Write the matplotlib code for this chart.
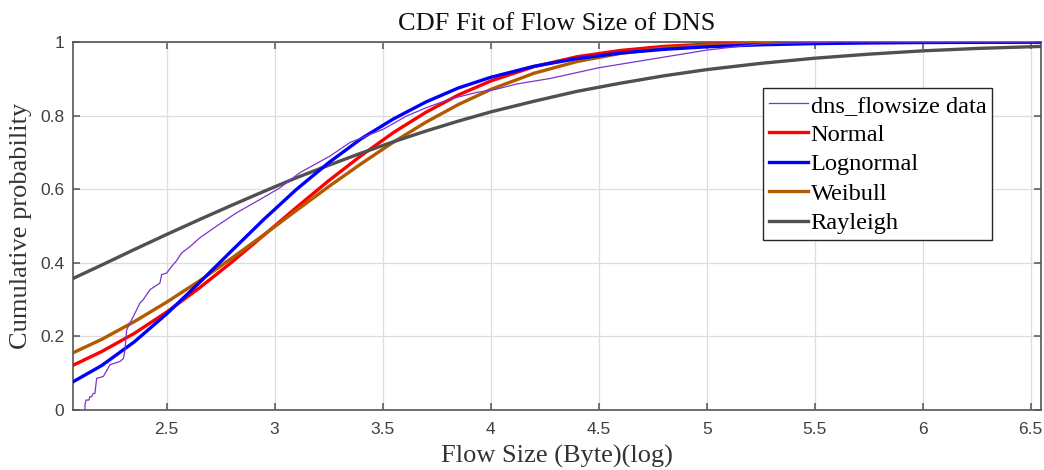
import matplotlib
matplotlib.use('Agg')
import matplotlib.pyplot as plt

# fitted CDF curves, values at these x positions
fit_x = [2.065, 2.2, 2.35, 2.5, 2.65, 2.8, 2.95, 3.1, 3.25, 3.4, 3.55, 3.7, 3.85, 4.0,
         4.2, 4.4, 4.6, 4.8, 5.0, 5.25, 5.5, 5.75, 6.0, 6.25, 6.546]
normal = [0.121, 0.159, 0.208, 0.266, 0.331, 0.401, 0.475, 0.550, 0.623, 0.691, 0.754, 0.809, 0.856, 0.894,
          0.933, 0.960, 0.977, 0.988, 0.994, 0.9975, 0.999, 0.9998, 1.0, 1.0, 1.0]
lognormal = [0.076, 0.121, 0.185, 0.261, 0.345, 0.432, 0.518, 0.599, 0.672, 0.737, 0.791, 0.837, 0.875, 0.904,
             0.934, 0.955, 0.970, 0.980, 0.987, 0.9925, 0.9957, 0.9975, 0.9986, 0.9992, 0.9996]
weibull = [0.155, 0.192, 0.240, 0.293, 0.350, 0.412, 0.476, 0.542, 0.607, 0.669, 0.728, 0.782, 0.830, 0.871,
           0.915, 0.947, 0.969, 0.983, 0.9914, 0.9967, 0.9989, 0.9997, 0.9999, 1.0, 1.0]
rayleigh = [0.357, 0.394, 0.436, 0.477, 0.517, 0.556, 0.594, 0.631, 0.665, 0.698, 0.729, 0.758, 0.785, 0.810,
            0.839, 0.866, 0.888, 0.908, 0.925, 0.942, 0.956, 0.967, 0.976, 0.9825, 0.988]

# empirical CDF of the data (stairs)
data_x = [2.122, 2.122, 2.127, 2.140, 2.145, 2.153, 2.160, 2.168, 2.176, 2.207, 2.238, 2.284, 2.300, 2.307,
          2.315, 2.338, 2.377, 2.392, 2.423, 2.469, 2.477, 2.500, 2.523, 2.545, 2.570, 2.610, 2.654, 2.732,
          2.824, 2.932, 3.025, 3.117, 3.256, 3.349, 3.426, 3.503, 3.611, 3.704, 3.812, 3.935, 4.028, 4.121,
          4.276, 4.500, 5.0, 5.25, 5.6, 6.546]
data_y = [0.0, 0.014, 0.027, 0.027, 0.036, 0.036, 0.045, 0.045, 0.086, 0.091, 0.123, 0.132, 0.140, 0.163,
          0.218, 0.245, 0.291, 0.300, 0.327, 0.345, 0.368, 0.372, 0.390, 0.405, 0.427, 0.445, 0.468, 0.500,
          0.536, 0.572, 0.604, 0.645, 0.690, 0.727, 0.745, 0.763, 0.799, 0.822, 0.845, 0.863, 0.872, 0.886,
          0.901, 0.930, 0.978, 0.995, 1.0, 1.0]

serif = 'Liberation Serif'
sans = 'Liberation Sans'
axcol = '#555555'

fig = plt.figure(figsize=(10.44, 4.70), dpi=100)
ax = fig.add_axes([0.0696, 0.1277, 0.9272, 0.7829])

ax.plot(data_x, data_y, color='#7B33CC', lw=0.9, label='dns_flowsize data', zorder=5)
ax.plot(fit_x, normal, color='#FF0000', lw=2.4, label='Normal', zorder=3)
ax.plot(fit_x, lognormal, color='#0000FF', lw=2.4, label='Lognormal', zorder=4)
ax.plot(fit_x, weibull, color='#B35A00', lw=2.4, label='Weibull', zorder=3)
ax.plot(fit_x, rayleigh, color='#505050', lw=2.4, label='Rayleigh', zorder=3)

ax.set_xlim(2.065, 6.546)
ax.set_ylim(0, 1)
ax.set_xticks([2.5, 3, 3.5, 4, 4.5, 5, 5.5, 6, 6.5])
ax.set_xticklabels(['2.5', '3', '3.5', '4', '4.5', '5', '5.5', '6', '6.5'])
ax.set_yticks([0, 0.2, 0.4, 0.6, 0.8, 1])
ax.set_yticklabels(['0', '0.2', '0.4', '0.6', '0.8', '1'])

ax.grid(True, color='#dddddd', lw=0.9)
ax.set_axisbelow(True)
for s in ax.spines.values():
    s.set_color(axcol)
    s.set_linewidth(1.2)
ax.tick_params(direction='in', length=5, width=1.1, color=axcol, top=True, right=True,
               labelsize=12.5, labelcolor='#404040')
ax.tick_params(axis='x', pad=9)
ax.tick_params(axis='y', pad=6)
for lab in ax.get_xticklabels() + ax.get_yticklabels():
    lab.set_family(sans)

ax.set_title('CDF Fit of Flow Size of DNS', family=serif, fontsize=19, color='#111111', pad=9)
ax.set_xlabel('Flow Size (Byte)(log)', family=serif, fontsize=19, color='#333333', labelpad=5)
ax.set_ylabel('Cumulative probability', family=serif, fontsize=19, color='#333333', labelpad=6)

leg = ax.legend(loc='upper left', bbox_to_anchor=(0.713, 0.874), fancybox=False, framealpha=1,
                edgecolor='#262626', borderpad=0.25, labelspacing=0.3, handlelength=1.6,
                handletextpad=0.1, borderaxespad=0, prop={'family': serif, 'size': 17.6})
leg.get_frame().set_linewidth(1.0)

fig.savefig('out.png', dpi=100)
